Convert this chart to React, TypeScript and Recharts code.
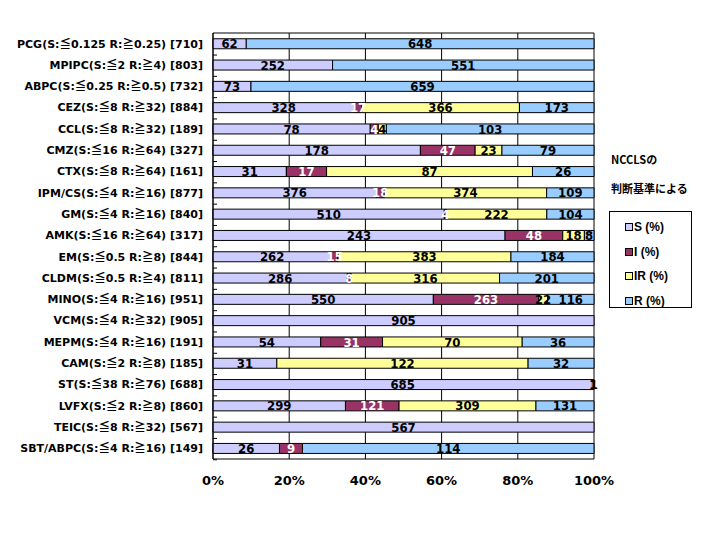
import React from 'react';
import { BarChart, Bar, XAxis, YAxis, CartesianGrid, Legend, LabelList } from 'recharts';

const drugs = [
  'PCG(S:≦0.125 R:≧0.25) [710]',
  'MPIPC(S:≦2 R:≧4) [803]',
  'ABPC(S:≦0.25 R:≧0.5) [732]',
  'CEZ(S:≦8 R:≧32) [884]',
  'CCL(S:≦8 R:≧32) [189]',
  'CMZ(S:≦16 R:≧64) [327]',
  'CTX(S:≦8 R:≧64) [161]',
  'IPM/CS(S:≦4 R:≧16) [877]',
  'GM(S:≦4 R:≧16) [840]',
  'AMK(S:≦16 R:≧64) [317]',
  'EM(S:≦0.5 R:≧8) [844]',
  'CLDM(S:≦0.5 R:≧4) [811]',
  'MINO(S:≦4 R:≧16) [951]',
  'VCM(S:≦4 R:≧32) [905]',
  'MEPM(S:≦4 R:≧16) [191]',
  'CAM(S:≦2 R:≧8) [185]',
  'ST(S:≦38 R:≧76) [688]',
  'LVFX(S:≦2 R:≧8) [860]',
  'TEIC(S:≦8 R:≧32) [567]',
  'SBT/ABPC(S:≦4 R:≧16) [149]',
];

const sCounts = [62, 252, 73, 328, 78, 178, 31, 376, 510, 243, 262, 286, 550, 905, 54, 31, 685, 299, 567, 26];
const iCounts = [0, 0, 0, 17, 4, 47, 17, 18, 4, 48, 15, 8, 263, 0, 31, 0, 1, 121, 0, 9];
const irCounts = [0, 0, 0, 366, 4, 23, 87, 374, 222, 18, 383, 316, 22, 0, 70, 122, 1, 309, 0, 0];
const rCounts = [648, 551, 659, 173, 103, 79, 26, 109, 104, 8, 184, 201, 116, 0, 36, 32, 1, 131, 0, 114];

const percentTicks = [0, 0.2, 0.4, 0.6, 0.8, 1];

const SERIES = [
  { key: 'S', name: 'S (%)', color: '#CCCCFF', text: '#000000' },
  { key: 'I', name: 'I (%)', color: '#993366', text: '#FFFFFF' },
  { key: 'IR', name: 'IR (%)', color: '#FFFF99', text: '#000000' },
  { key: 'R', name: 'R (%)', color: '#99CCFF', text: '#000000' },
];

const data = drugs.map((name, i) => ({
  name,
  S: sCounts[i],
  I: iCounts[i],
  IR: irCounts[i],
  R: rCounts[i],
}));

const CHART_H = 534;
const MARGIN = { top: 33, right: 122, bottom: 45, left: 10 };
const HALF_BAND = (CHART_H - MARGIN.top - MARGIN.bottom) / drugs.length / 2;

const LABEL_FONT = "'Liberation Sans Narrow', 'DejaVu Sans Condensed', 'Arial Narrow', sans-serif";
const AXIS_FONT = "'DejaVu Sans', 'Noto Sans CJK JP', sans-serif";
const CJK_FONT = "'Noto Sans CJK JP', 'DejaVu Sans', sans-serif";

// the ≦ / ≧ signs are full-width in the original, so draw them with the CJK font
const CategoryTick = ({ x, y, payload }: any) => {
  const parts = String(payload.value).split(/([≦≧])/);
  return (
    <g>
      <text
        x={x}
        y={y}
        dy="0.35em"
        textAnchor="end"
        fontSize={11}
        fontWeight="bold"
        fontFamily={AXIS_FONT}
        fill="#000"
      >
        {parts.map((p, i) =>
          p === '≦' || p === '≧' ? (
            <tspan key={i} fontFamily={CJK_FONT} fontSize={11.5}>
              {p}
            </tspan>
          ) : (
            <tspan key={i}>{p}</tspan>
          )
        )}
      </text>
      <line x1={x + 10} x2={x + 14} y1={y + HALF_BAND} y2={y + HALF_BAND} stroke="#000" />
    </g>
  );
};

const LegendBox = ({ payload }: any) => {
  const items = SERIES.map((s) => (payload || []).find((p: any) => p.value === s.name)).filter(Boolean);
  return (
    <div style={{ fontFamily: CJK_FONT, color: '#000' }}>
      <div style={{ fontSize: 11, fontWeight: 'bold', lineHeight: '29px', paddingLeft: 11 }}>
        <div>NCCLSの</div>
        <div>判断基準による</div>
      </div>
      <div
        style={{
          marginTop: 8,
          marginLeft: 9,
          width: 83,
          height: 97,
          border: '1px solid #000',
          boxSizing: 'border-box',
          paddingTop: 3,
        }}
      >
        {items.map((p: any) => (
          <div
            key={p.value}
            style={{
              display: 'flex',
              alignItems: 'center',
              height: 24.5,
              paddingLeft: 15,
              fontFamily: "'Liberation Sans', Arial, sans-serif",
              fontSize: 12,
              fontWeight: 'bold',
            }}
          >
            <span
              style={{
                display: 'inline-block',
                width: 6,
                height: 6,
                border: '1px solid #000',
                background: p.color,
                marginRight: 1,
              }}
            />
            {p.value}
          </div>
        ))}
      </div>
    </div>
  );
};

export default function App() {
  return (
    <div style={{ position: 'absolute', left: 0, top: 0, width: 716, height: 534, background: '#fff' }}>
      <BarChart
        width={716}
        height={CHART_H}
        data={data}
        layout="vertical"
        stackOffset="expand"
        margin={MARGIN}
        barCategoryGap="27%"
      >
        <CartesianGrid
          stroke="#000"
          horizontalCoordinatesGenerator={({ offset }: any) => [offset.top, offset.top + offset.height]}
        />
        <XAxis
          type="number"
          domain={[0, 1]}
          ticks={percentTicks}
          tickFormatter={(v: number) => `${Math.round(v * 100)}%`}
          axisLine={false}
          tickLine={false}
          tickSize={0}
          tickMargin={17}
          tick={{ fontSize: 13, fontWeight: 'bold', fontFamily: "'DejaVu Sans', sans-serif", fill: '#000' }}
        />
        <YAxis
          type="category"
          dataKey="name"
          width={203}
          interval={0}
          tickLine={false}
          tickSize={0}
          tickMargin={10}
          axisLine={{ stroke: '#000' }}
          tick={<CategoryTick />}
        />
        <Legend
          layout="vertical"
          align="center"
          verticalAlign="middle"
          wrapperStyle={{ left: 600, top: 145, width: 116 }}
          content={<LegendBox />}
        />
        {SERIES.map((s) => (
          <Bar
            key={s.key}
            dataKey={s.key}
            name={s.name}
            stackId="a"
            fill={s.color}
            stroke="#000"
            strokeWidth={1}
            isAnimationActive={false}
          >
            <LabelList
              dataKey={s.key}
              position="center"
              fill={s.text}
              stroke="none"
              fontSize={13}
              fontWeight="bold"
              fontFamily={LABEL_FONT}
              formatter={(v: any) => (v ? v : '')}
            />
          </Bar>
        ))}
      </BarChart>
    </div>
  );
}
